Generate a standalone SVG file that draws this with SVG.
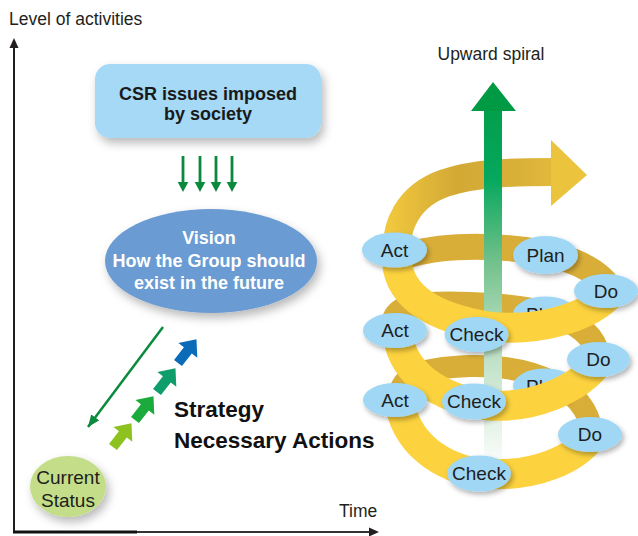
<svg xmlns="http://www.w3.org/2000/svg" width="638" height="536" viewBox="0 0 638 536">
<defs>
<style>
text{font-family:"Liberation Sans",Arial,Helvetica,sans-serif;}
.lbl{font-size:17.5px;fill:#231f20;}
.nd{fill:#a0d7f4;filter:url(#sh);}
.nt{font-size:19px;fill:#1e1e1e;text-anchor:middle;}
.bk{fill:none;stroke:#d9ae38;}
.fr{fill:none;stroke:#fcd23e;}
.dn{fill:#0b8a3e;}
.bt{font-size:18px;font-weight:bold;text-anchor:middle;}
</style>
<filter id="sh" x="-30%" y="-30%" width="170%" height="180%"><feDropShadow dx="2" dy="3" stdDeviation="2.5" flood-color="#000" flood-opacity="0.3"/></filter>
<filter id="sh2" x="-20%" y="-20%" width="150%" height="160%"><feDropShadow dx="3" dy="5" stdDeviation="5" flood-color="#000" flood-opacity="0.28"/></filter>
<linearGradient id="gs" x1="0" y1="82" x2="0" y2="470" gradientUnits="userSpaceOnUse">
<stop offset="0" stop-color="#009a44"/>
<stop offset="0.25" stop-color="#06a85e"/>
<stop offset="0.45" stop-color="#6cbf88"/>
<stop offset="0.6" stop-color="#a4d6b0"/>
<stop offset="0.8" stop-color="#d3ead7"/>
<stop offset="1" stop-color="#ffffff"/>
</linearGradient>
<linearGradient id="gold" x1="383" y1="0" x2="590" y2="0" gradientUnits="userSpaceOnUse">
<stop offset="0" stop-color="#f3ca3d"/>
<stop offset="0.35" stop-color="#d3a936"/>
<stop offset="0.65" stop-color="#d9b038"/>
<stop offset="1" stop-color="#ecc43d"/>
</linearGradient>
<marker id="ah" viewBox="0 0 12 10" refX="12" refY="5" markerWidth="12" markerHeight="10" markerUnits="userSpaceOnUse" orient="auto"><path d="M0,0 L12,5 L0,10 Z" fill="#0b8a3e"/></marker>
<path id="dna" d="M-1.4 0 H1.4 V26 H5.3 L0 36 L-5.3 26 H-1.4 Z"/>
<path id="step" d="M0,-5 H16 V-12 L30,0 L16,12 V5 H0 Z"/>
</defs>

<g id="axes">
<line x1="14" y1="46" x2="14" y2="533" stroke="#231f20" stroke-width="2"/>
<polygon points="14,38 9.5,48 18.5,48" fill="#231f20"/>
<line x1="13" y1="532" x2="137" y2="532" stroke="#111" stroke-width="3"/>
<line x1="137" y1="532" x2="370" y2="532" stroke="#333" stroke-width="2"/>
<polygon points="379,532 369,527.5 369,536.5" fill="#231f20"/>
<text class="lbl" x="9" y="25">Level of activities</text>
<text class="lbl" x="339" y="517">Time</text>
</g>

<g id="csr">
<rect x="95" y="64" width="226" height="74" rx="15" fill="#a5d9f5" filter="url(#sh2)"/>
<text class="bt" x="208" y="99.5" fill="#1a1a1a">CSR issues imposed</text>
<text class="bt" x="208" y="120" fill="#1a1a1a">by society</text>
</g>

<g id="vision">
<ellipse cx="211" cy="261" rx="106" ry="52" fill="#6b9bd2" filter="url(#sh2)"/>
<text class="bt" x="209" y="244" fill="#ffffff">Vision</text>
<text class="bt" x="209" y="266.5" fill="#ffffff">How the Group should</text>
<text class="bt" x="209" y="288.5" fill="#ffffff">exist in the future</text>
</g>

<g id="current">
<ellipse cx="68" cy="486.5" rx="38" ry="30.5" fill="#c4dd88" filter="url(#sh2)"/>
<text class="nt" x="68" y="484" font-size="18px">Current</text>
<text class="nt" x="68" y="507" font-size="18px">Status</text>
</g>

<g id="strategy">
<text x="174" y="417" font-size="22.5px" font-weight="bold" fill="#111">Strategy</text>
<text x="174" y="448" font-size="22.5px" font-weight="bold" fill="#111">Necessary Actions</text>
</g>

<g id="connectors">
<use href="#dna" class="dn" x="183" y="156"/>
<use href="#dna" class="dn" x="200" y="156"/>
<use href="#dna" class="dn" x="216" y="156"/>
<use href="#dna" class="dn" x="232" y="156"/>
<line x1="163" y1="327" x2="88" y2="427" stroke="#0b8a3e" stroke-width="2.5" marker-end="url(#ah)"/>
<use href="#step" fill="#8dc21f" transform="translate(113,447) rotate(-52)"/>
<use href="#step" fill="#1aab3c" transform="translate(135,420) rotate(-52)"/>
<use href="#step" fill="#0f9d6b" transform="translate(157,392) rotate(-52)"/>
<use href="#step" fill="#0a6cb9" transform="translate(178,363) rotate(-52)"/>
</g>

<g id="spiral">
<text class="lbl" x="491" y="60" text-anchor="middle">Upward spiral</text>
<path class="bk" stroke-width="22" d="M400 400 C398 375, 420 368, 470 366 C530 365, 585 385, 592 432"/>
<path class="bk" stroke-width="24" d="M395 328 C388 305, 420 302, 470 304 C530 306, 590 315, 598 355"/>
<path class="bk" stroke-width="26" d="M400 258 C430 246, 480 244, 525 250 C570 256, 600 270, 612 292"/>
<path fill="none" stroke="url(#gold)" stroke-width="28" d="M398 262 C392 225, 410 195, 445 183 C475 173, 510 172, 553 172"/>
<polygon points="551,140 587,175 551,206" fill="#ebc33d"/>
<g id="green-arrow">
<rect x="484" y="110" width="18" height="360" fill="url(#gs)"/>
<polygon points="493,82 516,111 471,111" fill="#009a44"/>
</g>
</g>

<g id="plan-bottom"><ellipse class="nd" cx="545" cy="386" rx="32" ry="17.5"/><text class="nt" x="545" y="392.5">Plan</text></g>
<g id="plan-mid"><ellipse class="nd" cx="545" cy="314" rx="32" ry="17.5"/><text class="nt" x="545" y="320.5">Plan</text></g>
<g id="plan-top"><ellipse class="nd" cx="545.5" cy="255" rx="32.5" ry="19"/><text class="nt" x="545.5" y="261.5">Plan</text></g>

<g id="spiral-front">
<path class="fr" stroke-width="30" d="M400 406 C410 450, 450 472, 490 474 C535 476, 575 460, 592 436"/>
<path class="fr" stroke-width="30" d="M398 338 C405 375, 440 398, 485 405 C530 410, 580 390, 600 360"/>
<path class="fr" stroke-width="30" d="M397 262 C400 300, 440 318, 485 326 C535 333, 590 318, 612 292"/>
</g>

<g id="act-top"><ellipse class="nd" cx="394.5" cy="250" rx="32.5" ry="17.5"/><text class="nt" x="394.5" y="256.5">Act</text></g>
<g id="do-top"><ellipse class="nd" cx="606" cy="291" rx="32" ry="17"/><text class="nt" x="606" y="297.5">Do</text></g>
<g id="check-top"><ellipse class="nd" cx="476.5" cy="334.5" rx="32" ry="17.5"/><text class="nt" x="476.5" y="341">Check</text></g>
<g id="act-mid"><ellipse class="nd" cx="395" cy="330.5" rx="32" ry="17.5"/><text class="nt" x="395" y="337">Act</text></g>
<g id="do-mid"><ellipse class="nd" cx="598.5" cy="359.5" rx="31.5" ry="17.5"/><text class="nt" x="598.5" y="366">Do</text></g>
<g id="check-mid"><ellipse class="nd" cx="474" cy="401.5" rx="32" ry="18"/><text class="nt" x="474" y="408">Check</text></g>
<g id="act-bottom"><ellipse class="nd" cx="395" cy="400" rx="32" ry="17"/><text class="nt" x="395" y="406.5">Act</text></g>
<g id="do-bottom"><ellipse class="nd" cx="590" cy="434.5" rx="32" ry="17.5"/><text class="nt" x="590" y="441">Do</text></g>
<g id="check-bottom"><ellipse class="nd" cx="479" cy="473.5" rx="32" ry="18"/><text class="nt" x="479" y="480">Check</text></g>
</svg>
